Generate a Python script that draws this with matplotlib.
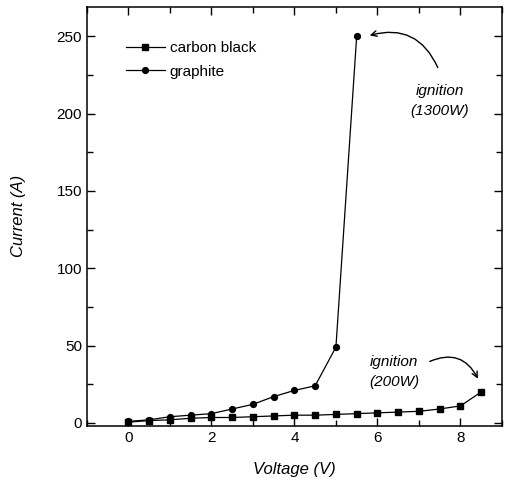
import matplotlib
matplotlib.use('Agg')
import matplotlib.pyplot as plt
from matplotlib.ticker import MultipleLocator

plt.rcParams['font.family'] = ['Liberation Sans', 'DejaVu Sans']

# carbon black (squares)
cb_v = [0, 0.5, 1, 1.5, 2, 2.5, 3, 3.5, 4, 4.5, 5, 5.5, 6, 6.5, 7, 7.5, 8, 8.5]
cb_i = [0.5, 1.5, 2, 3, 3.5, 3.5, 4, 4.5, 5, 5, 5.5, 6, 6.5, 7, 7.5, 9, 11, 20]

# graphite (circles)
gr_v = [0, 0.5, 1, 1.5, 2, 2.5, 3, 3.5, 4, 4.5, 5, 5.5]
gr_i = [1, 2, 4, 5, 6, 9, 12, 17, 21, 24, 49, 250]

fig = plt.figure(figsize=(5.05, 4.83), dpi=100)
ax = fig.add_axes([0.172, 0.118, 0.822, 0.868])

ax.plot(cb_v, cb_i, marker='s', color='black', lw=0.9, ms=4.2, label='carbon black')
ax.plot(gr_v, gr_i, marker='o', color='black', lw=0.9, ms=4.2, label='graphite')

ax.set_xlim(-1, 9)
ax.set_ylim(-2, 269)
ax.xaxis.set_major_locator(MultipleLocator(2))
ax.xaxis.set_minor_locator(MultipleLocator(1))
ax.yaxis.set_major_locator(MultipleLocator(50))
ax.yaxis.set_minor_locator(MultipleLocator(25))
ax.tick_params(which='both', direction='in', top=True, right=True, labelsize=11, width=1)
ax.tick_params(which='major', length=6)
ax.tick_params(which='minor', length=4)
for s in ax.spines.values():
    s.set_linewidth(1.1)

ax.set_xlabel('Voltage (V)', fontsize=12, style='italic', labelpad=12)
ax.set_ylabel('Current (A)', fontsize=12, style='italic', labelpad=22)

ax.legend(loc='upper left', bbox_to_anchor=(0.06, 0.95), frameon=False, fontsize=11,
          handlelength=2.6, handletextpad=0.3, labelspacing=0.6)

ax.text(7.5, 208, 'ignition\n(1300W)', ha='center', va='center', fontsize=11,
        style='italic', linespacing=1.6)
ax.annotate('', xy=(5.75, 250), xytext=(7.48, 228),
            arrowprops=dict(arrowstyle='->', color='black', lw=1,
                            connectionstyle='arc3,rad=0.45'))

ax.text(6.4, 33, 'ignition\n(200W)', ha='center', va='center', fontsize=11,
        style='italic', linespacing=1.6)
ax.annotate('', xy=(8.45, 27), xytext=(7.2, 39),
            arrowprops=dict(arrowstyle='->', color='black', lw=1,
                            connectionstyle='arc3,rad=-0.5'))

plt.savefig('out.png', dpi=100)
